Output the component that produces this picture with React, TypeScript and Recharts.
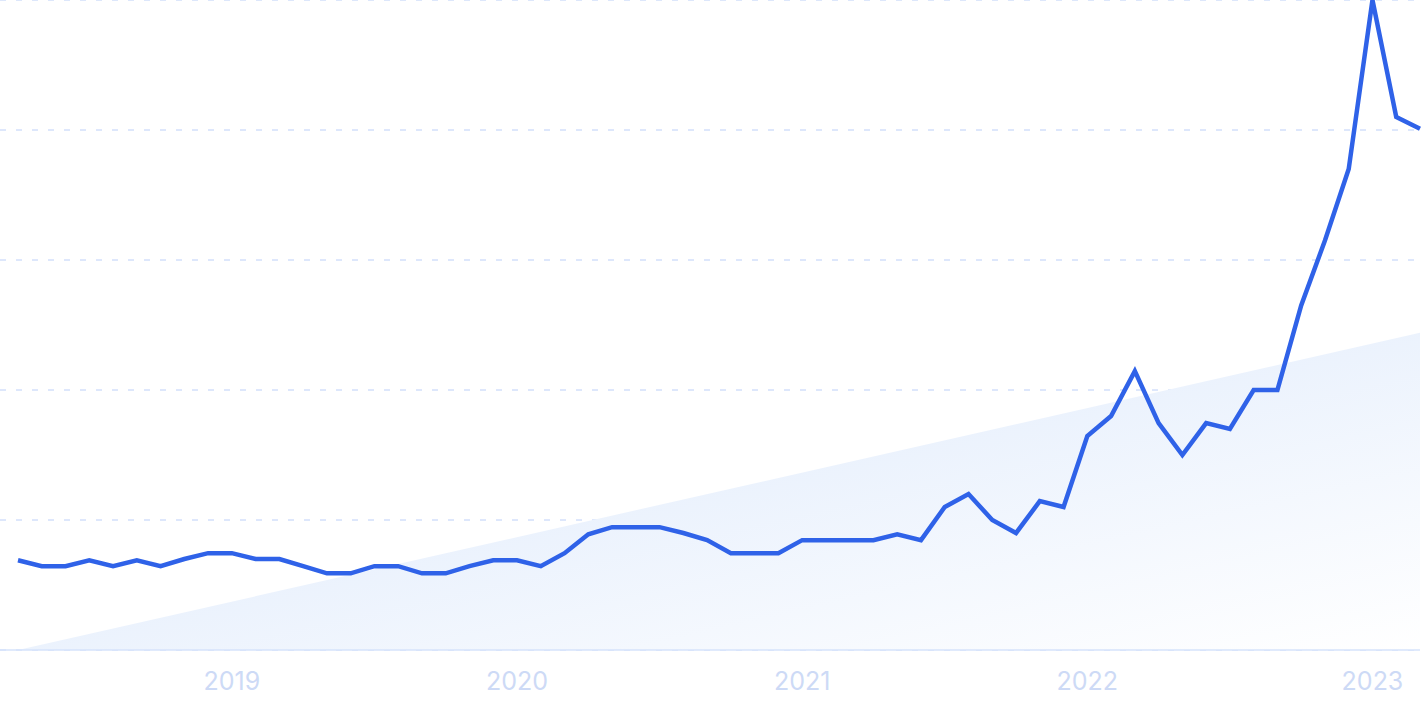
import { ComposedChart, Line, Area, XAxis, YAxis, CartesianGrid } from "recharts"

const months = [
  "2018-04", "2018-05", "2018-06", "2018-07", "2018-08", "2018-09", "2018-10", "2018-11", "2018-12",
  "2019-01", "2019-02", "2019-03", "2019-04", "2019-05", "2019-06", "2019-07", "2019-08", "2019-09", "2019-10", "2019-11", "2019-12",
  "2020-01", "2020-02", "2020-03", "2020-04", "2020-05", "2020-06", "2020-07", "2020-08", "2020-09", "2020-10", "2020-11", "2020-12",
  "2021-01", "2021-02", "2021-03", "2021-04", "2021-05", "2021-06", "2021-07", "2021-08", "2021-09", "2021-10", "2021-11", "2021-12",
  "2022-01", "2022-02", "2022-03", "2022-04", "2022-05", "2022-06", "2022-07", "2022-08", "2022-09", "2022-10", "2022-11", "2022-12",
  "2023-01", "2023-02", "2023-03",
]

const interest = [
  13.8, 12.9, 12.9, 13.8, 12.9, 13.8, 12.9, 14.0, 14.9,
  14.9, 14.0, 14.0, 12.9, 11.8, 11.8, 12.9, 12.9, 11.8, 11.8, 12.9, 13.8,
  13.8, 12.9, 14.9, 17.8, 18.9, 18.9, 18.9, 18.0, 16.9, 14.9, 14.9, 14.9,
  16.9, 16.9, 16.9, 16.9, 17.8, 16.9, 22.0, 24.0, 20.0, 18.0, 22.9, 22.0,
  32.9, 36.0, 42.9, 34.9, 30.0, 34.9, 34.0, 40.0, 40.0, 53.0, 63.0, 74.0,
  100, 82.0, 80.2,
]

// trend line: only the two end values, joined straight
const trendStart = 0
const trendEnd = 48.8

const yearTicks = ["2019-01", "2020-01", "2021-01", "2022-01", "2023-01"]
const gridValues = [0, 20, 40, 60, 80, 100]

const data = months.map((m, i) => ({
  month: m,
  value: interest[i],
  trend: i === 0 ? trendStart : i === months.length - 1 ? trendEnd : null,
}))

export default function App() {
  return (
    <div style={{ position: "absolute", left: 0, top: 0, background: "#fff" }}>
      <ComposedChart
        width={1425}
        height={712}
        data={data}
        margin={{ top: 0, right: 5, bottom: 0, left: 0 }}
      >
        <defs>
          <linearGradient id="trendFill" x1="0" y1="0" x2="1" y2="1">
            <stop offset="0%" stopColor="#d8e6fb" />
            <stop offset="100%" stopColor="#ffffff" />
          </linearGradient>
        </defs>
        <CartesianGrid vertical={false} stroke="#bccff8" strokeDasharray="6 10" />
        <XAxis
          dataKey="month"
          ticks={yearTicks}
          interval={0}
          tickFormatter={(m: string) => m.slice(0, 4)}
          padding={{ left: 18, right: 0 }}
          height={62}
          tickLine={false}
          tickMargin={16}
          axisLine={{ stroke: "#d6e3fb", strokeWidth: 1.5 }}
          tick={{ fill: "#cddaf6", fontSize: 25, fontFamily: "Inter, sans-serif" }}
        />
        <YAxis hide domain={[0, 100]} ticks={gridValues} />
        <Area
          dataKey="trend"
          connectNulls
          stroke="none"
          fill="url(#trendFill)"
          fillOpacity={1}
          dot={false}
          activeDot={false}
          isAnimationActive={false}
        />
        <Line
          dataKey="value"
          type="linear"
          stroke="#2f62e8"
          strokeWidth={4.5}
          dot={false}
          activeDot={false}
          isAnimationActive={false}
        />
      </ComposedChart>
    </div>
  )
}
